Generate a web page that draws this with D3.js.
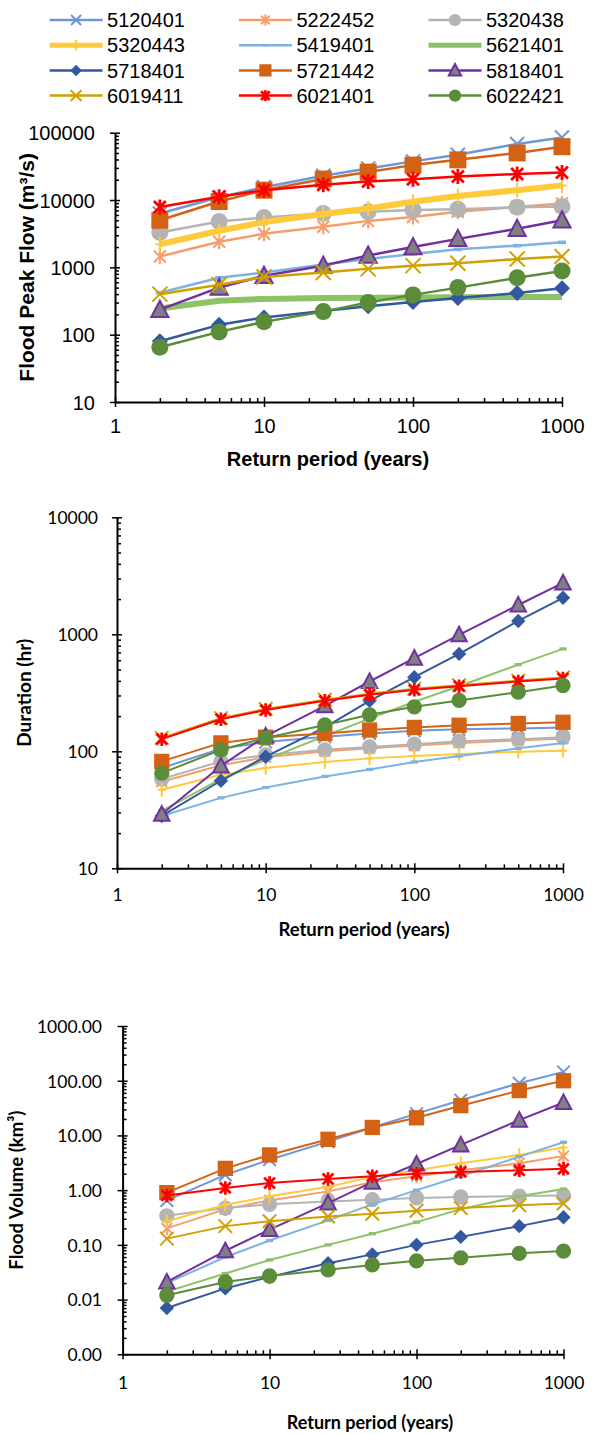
<!DOCTYPE html>
<html>
<head>
<meta charset="utf-8">
<script src="https://cdn.jsdelivr.net/npm/d3@7"></script>
<style>
  body { margin: 0; background: #fff; }
  svg { display: block; }
</style>
</head>
<body>
<svg width="597" height="1434"></svg>
<script>
// Return periods (years) on the x axis
const RETURN_PERIODS = [2, 5, 10, 25, 50, 100, 200, 500, 1000];
const STATIONS = ['5120401', '5222452', '5320438', '5320443', '5419401', '5621401',
                  '5718401', '5721442', '5818401', '6019411', '6021401', '6022421'];

// Flood peak flow (m3/s), one row per station
const PEAK_FLOW = [
  [6300, 11000, 15500, 23000, 29500, 37500, 47000, 68000, 85000],
  [1450, 2400, 3150, 4000, 4900, 5600, 6700, 7900, 8900],
  [3300, 4800, 5500, 6300, 6700, 7100, 7300, 7800, 8000],
  [2200, 3500, 4700, 6200, 7500, 9400, 11500, 14000, 16500],
  [420, 700, 840, 1100, 1330, 1580, 1850, 2100, 2350],
  [245, 320, 340, 350, 355, 358, 360, 362, 363],
  [80, 140, 180, 225, 265, 305, 350, 415, 490],
  [5000, 9500, 14000, 20500, 26000, 33000, 39500, 50000, 62000],
  [235, 500, 750, 1060, 1500, 2000, 2650, 3750, 5000],
  [400, 550, 720, 840, 950, 1060, 1150, 1330, 1450],
  [7900, 11200, 14000, 16800, 18800, 20400, 22400, 24300, 25700],
  [65, 110, 155, 220, 300, 390, 500, 700, 880]
];

// Duration (hr)
const DURATION = [
  [72, 105, 120, 133, 142, 150, 154, 157, 160],
  [55, 76, 89, 100, 106, 112, 118, 124, 128],
  [58, 82, 93, 103, 109, 115, 122, 127, 132],
  [47, 63, 72, 81, 87, 91, 95, 99, 101],
  [28, 40, 49, 61, 70, 81, 91, 106, 118],
  [31, 58, 85, 135, 190, 265, 360, 550, 750],
  [28, 56, 90, 160, 270, 430, 680, 1300, 2050],
  [82, 118, 132, 142, 152, 160, 167, 173, 177],
  [29, 75, 135, 245, 395, 625, 990, 1780, 2750],
  [130, 192, 230, 276, 311, 342, 367, 402, 428],
  [127, 188, 225, 270, 305, 335, 360, 395, 420],
  [65, 103, 130, 168, 205, 240, 272, 320, 365]
];

// Flood volume (km3)
const VOLUME = [
  [0.65, 1.9, 3.6, 7.7, 14, 25, 44, 90, 145],
  [0.2, 0.45, 0.65, 0.95, 1.4, 1.8, 2.3, 3.1, 4.2],
  [0.34, 0.47, 0.55, 0.62, 0.67, 0.72, 0.75, 0.78, 0.8],
  [0.27, 0.54, 0.77, 1.15, 1.75, 2.3, 3.1, 4.4, 6.0],
  [0.02, 0.06, 0.12, 0.28, 0.55, 1.0, 1.8, 4.1, 7.5],
  [0.014, 0.03, 0.053, 0.1, 0.16, 0.26, 0.45, 0.77, 1.05],
  [0.007, 0.016, 0.026, 0.046, 0.067, 0.1, 0.14, 0.22, 0.32],
  [0.9, 2.5, 4.4, 8.5, 14, 21, 35, 66, 100],
  [0.021, 0.078, 0.19, 0.58, 1.4, 3.0, 6.7, 19, 40],
  [0.13, 0.22, 0.27, 0.33, 0.37, 0.42, 0.47, 0.53, 0.57],
  [0.8, 1.1, 1.35, 1.6, 1.8, 2.0, 2.15, 2.3, 2.45],
  [0.012, 0.021, 0.027, 0.035, 0.043, 0.051, 0.058, 0.07, 0.077]
];

// Tick labels
const X_TICKS = [1, 10, 100, 1000];
const PEAK_TICKS = [10, 100, 1000, 10000, 100000];
const DURATION_TICKS = [10, 100, 1000, 10000];
const VOLUME_TICKS = [0.001, 0.01, 0.1, 1, 10, 100, 1000];

// look of each station (excel-like markers)
const SERIES_STYLE = [
  { color: '#6f96d6', marker: 'x', r: 7, sw: 2 },
  { color: '#f59d6b', marker: 'star', r: 7.5, sw: 2 },
  { color: '#b4b4b4', marker: 'circle', r: 8.5 },
  { color: '#ffca3a', marker: 'plus', r: 7.5, sw: 2, thick: true },
  { color: '#7eb2e0', marker: 'dash', r: 4 },
  { color: '#8dc266', marker: 'dash', r: 4, thick: true, noTopMarker: true },
  { color: '#3358a0', marker: 'diamond', r: 8 },
  { color: '#d46214', marker: 'square', r: 8.5 },
  { color: '#7030a0', marker: 'triangle', r: 9, fill: '#808080' },
  { color: '#d1a000', marker: 'x', r: 7.5, sw: 2 },
  { color: '#ff0000', marker: 'star', r: 7.5, sw: 2.8 },
  { color: '#5a8c3a', marker: 'circle', r: 8.5 }
];

const ARIAL = '"Liberation Sans", Arial, sans-serif';
const CALIBRI = 'Lato, "Open Sans", sans-serif';

const svg = d3.select('svg');

function markerPath(type, r) {
  const p = d3.path();
  if (type === 'circle') {
    p.arc(0, 0, r, 0, 2 * Math.PI);
  } else if (type === 'square') {
    p.rect(-r, -r, 2 * r, 2 * r);
  } else if (type === 'diamond') {
    p.moveTo(0, -r); p.lineTo(r, 0); p.lineTo(0, r); p.lineTo(-r, 0); p.closePath();
  } else if (type === 'triangle') {
    p.moveTo(0, -r); p.lineTo(r * 0.95, r * 0.8); p.lineTo(-r * 0.95, r * 0.8); p.closePath();
  } else if (type === 'x') {
    p.moveTo(-r, -r); p.lineTo(r, r); p.moveTo(r, -r); p.lineTo(-r, r);
  } else if (type === 'star') {
    p.moveTo(-r * 0.8, -r * 0.8); p.lineTo(r * 0.8, r * 0.8);
    p.moveTo(r * 0.8, -r * 0.8); p.lineTo(-r * 0.8, r * 0.8);
    p.moveTo(0, -r); p.lineTo(0, r);
  } else if (type === 'plus') {
    p.moveTo(0, -r); p.lineTo(0, r); p.moveTo(-r * 0.6, 0); p.lineTo(r * 0.6, 0);
  } else if (type === 'dash') {
    p.rect(-r, -r * 0.45, 2 * r, r * 0.9);
  }
  return p.toString();
}

function styleMarker(sel, st) {
  const stroked = ['x', 'star', 'plus'].includes(st.marker);
  if (stroked) {
    sel.attr('fill', 'none').attr('stroke', st.color).attr('stroke-width', st.sw);
  } else if (st.marker === 'triangle') {
    sel.attr('fill', st.fill).attr('stroke', st.color).attr('stroke-width', 2);
  } else {
    sel.attr('fill', st.color).attr('stroke', 'none');
  }
}

// minor log ticks 2..9 for every decade of the domain
function minorTicks(lo, hi) {
  const out = [];
  for (let d = Math.round(Math.log10(lo)); d < Math.round(Math.log10(hi)); d++) {
    for (let k = 2; k <= 9; k++) out.push(k * Math.pow(10, d));
  }
  return out;
}

// panel layouts
const PANELS = [
  {
    values: PEAK_FLOW, yTicks: PEAK_TICKS, yFormat: d3.format('d'),
    x0: 115, x1: 562, yTop: 132.7, yBot: 402,
    font: ARIAL, tickFont: 20, xLabelBase: 433, yLabelRight: 95,
    xTitle: 'Return period (years)', xTitleX: 328, xTitleY: 466, xTitleSize: 20,
    yTitle: 'Flood Peak Flow (m³/s)', yTitleX: 27, yTitleSize: 21,
    lineW: 2.5, thickW: 6, mScale: 1, top: true
  },
  {
    values: DURATION, yTicks: DURATION_TICKS, yFormat: d3.format('d'),
    x0: 117, x1: 563, yTop: 517.3, yBot: 868.3,
    font: CALIBRI, tickFont: 17.5, xLabelBase: 901, yLabelRight: 98,
    xTitle: 'Return period (years)', xTitleX: 364, xTitleY: 936, xTitleSize: 18.5,
    yTitle: 'Duration (hr)', yTitleX: 24, yTitleSize: 19,
    lineW: 2, thickW: 2, mScale: 0.9, top: false
  },
  {
    values: VOLUME, yTicks: VOLUME_TICKS, yFormat: d3.format('.2f'),
    x0: 122.6, x1: 563.5, yTop: 1026, yBot: 1354.3,
    font: CALIBRI, tickFont: 17.5, xLabelBase: 1389, yLabelRight: 102,
    xTitle: 'Return period (years)', xTitleX: 370, xTitleY: 1429, xTitleSize: 18,
    yTitle: 'Flood Volume (km³)', yTitleX: 17, yTitleSize: 18.5,
    lineW: 2, thickW: 2, mScale: 0.9, top: false
  }
];

function drawPanel(p) {
  const x = d3.scaleLog().domain([X_TICKS[0], X_TICKS[X_TICKS.length - 1]]).range([p.x0, p.x1]);
  const y = d3.scaleLog().domain(d3.extent(p.yTicks)).range([p.yBot, p.yTop]);
  const g = svg.append('g');

  // minor ticks (inside only)
  g.append('g')
    .attr('transform', `translate(0,${p.yBot})`)
    .call(d3.axisBottom(x).tickValues(minorTicks(...x.domain())).tickSize(-4).tickFormat(''))
    .call(a => a.select('.domain').remove())
    .selectAll('line').attr('stroke-width', 1.5);
  g.append('g')
    .attr('transform', `translate(${p.x0},0)`)
    .call(d3.axisRight(y).tickValues(minorTicks(...y.domain())).tickSize(4).tickFormat(''))
    .call(a => a.select('.domain').remove())
    .selectAll('line').attr('stroke-width', 1.5);

  // major ticks crossing the axis line
  const xa = g.append('g')
    .attr('transform', `translate(0,${p.yBot})`)
    .call(d3.axisBottom(x).tickValues(X_TICKS).tickFormat(d3.format('d')).tickSize(5).tickSizeOuter(0));
  xa.selectAll('.tick line').attr('y1', -5).attr('stroke-width', 1.5);
  xa.select('.domain').attr('stroke-width', 2);
  xa.selectAll('.tick text')
    .attr('y', p.xLabelBase - p.yBot).attr('dy', null)
    .attr('font-family', p.font).attr('font-size', p.tickFont).attr('fill', '#000');

  const ya = g.append('g')
    .attr('transform', `translate(${p.x0},0)`)
    .call(d3.axisLeft(y).tickValues(p.yTicks).tickFormat(p.yFormat).tickSize(5).tickSizeOuter(0));
  ya.selectAll('.tick line').attr('x1', 5).attr('stroke-width', 1.5);
  ya.select('.domain').attr('stroke-width', 2);
  ya.selectAll('.tick text')
    .attr('x', p.yLabelRight - p.x0).attr('dy', '0.36em')
    .attr('font-family', p.font).attr('font-size', p.tickFont).attr('fill', '#000');

  // titles
  g.append('text')
    .attr('x', p.xTitleX).attr('y', p.xTitleY)
    .attr('text-anchor', 'middle')
    .attr('font-family', p.font).attr('font-weight', 'bold').attr('font-size', p.xTitleSize)
    .text(p.xTitle);
  g.append('text')
    .attr('transform', `translate(${p.yTitleX},${(p.yTop + p.yBot) / 2}) rotate(-90)`)
    .attr('dy', '0.35em')
    .attr('text-anchor', 'middle')
    .attr('font-family', p.font).attr('font-weight', 'bold').attr('font-size', p.yTitleSize)
    .text(p.yTitle);

  // series, later stations drawn on top
  const line = d3.line()
    .x((d, i) => x(RETURN_PERIODS[i]))
    .y(d => y(d));

  const series = g.append('g').selectAll('g.series')
    .data(p.values)
    .join('g')
    .classed('series', true);

  series.append('path')
    .attr('d', d => line(d))
    .attr('fill', 'none')
    .attr('stroke', (d, i) => SERIES_STYLE[i].color)
    .attr('stroke-width', (d, i) => SERIES_STYLE[i].thick ? p.thickW : p.lineW)
    .attr('stroke-linejoin', 'round');

  series.each(function (vals, i) {
    const st = SERIES_STYLE[i];
    if (p.top && st.noTopMarker) return;
    d3.select(this).selectAll('path.marker')
      .data(vals)
      .join('path')
      .classed('marker', true)
      .attr('d', markerPath(st.marker, st.r * p.mScale))
      .attr('transform', (d, k) => `translate(${x(RETURN_PERIODS[k])},${y(d)})`)
      .call(styleMarker, st);
  });
}

PANELS.forEach(drawPanel);

// Legend (3 columns)
const legend = svg.append('g');
const LEG_COL_X = [49.6, 238.9, 428.5];
const LEG_ROW_Y = 20, LEG_ROW_STEP = 25.2, LEG_LINE = 53;

const items = legend.selectAll('g')
  .data(STATIONS)
  .join('g')
  .attr('transform', (d, i) => `translate(${LEG_COL_X[i % 3]},${LEG_ROW_Y + Math.floor(i / 3) * LEG_ROW_STEP})`);

items.append('line')
  .attr('x1', 0).attr('x2', LEG_LINE)
  .attr('stroke', (d, i) => SERIES_STYLE[i].color)
  .attr('stroke-width', (d, i) => SERIES_STYLE[i].thick ? 5 : 2.5);

items.each(function (d, i) {
  const st = SERIES_STYLE[i];
  if (st.noTopMarker) return;
  d3.select(this).append('path')
    .attr('d', markerPath(st.marker, st.r * 0.72))
    .attr('transform', `translate(${LEG_LINE / 2},0)`)
    .call(styleMarker, st);
});

items.append('text')
  .attr('x', LEG_LINE + 4.5)
  .attr('dy', '0.36em')
  .attr('font-family', ARIAL)
  .attr('font-size', 20)
  .text(d => d);
</script>
</body>
</html>
